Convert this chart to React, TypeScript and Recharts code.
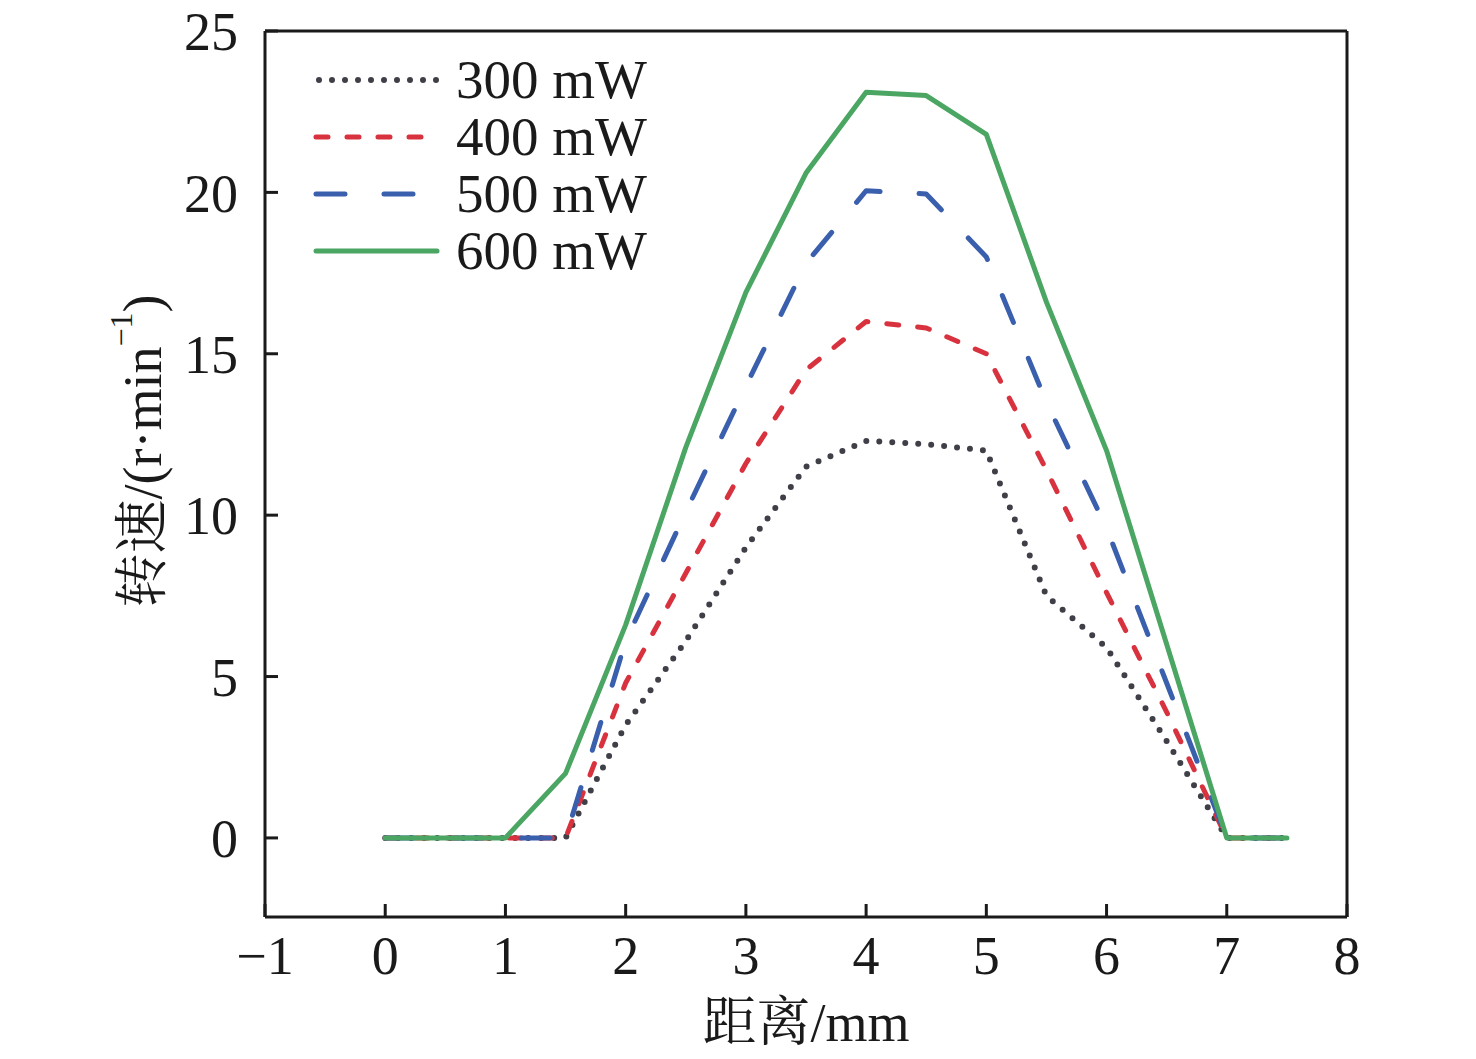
import { LineChart, Line, XAxis, YAxis, Legend, ReferenceLine } from 'recharts'

const distance = [0, 0.5, 1, 1.5, 2, 2.5, 3, 3.5, 4, 4.5, 5, 5.5, 6, 6.5, 7, 7.5]
const speed300 = [0, 0, 0, 0, 3.5, 6.1, 9.0, 11.5, 12.3, 12.2, 12.0, 7.5, 5.9, 3.0, 0, 0]
const speed400 = [0, 0, 0, 0, 4.8, 8.2, 11.6, 14.5, 16.0, 15.8, 15.0, 11.4, 7.6, 3.9, 0, 0]
const speed500 = [0, 0, 0, 0, 6.1, 10.1, 14.0, 17.8, 20.05, 19.95, 18.0, 13.5, 9.6, 4.8, 0, 0]
const speed600 = [0, 0, 0, 2.0, 6.6, 12.1, 16.9, 20.6, 23.1, 23.0, 21.8, 16.6, 12.0, 6.0, 0, 0]

const xTicks = [-1, 0, 1, 2, 3, 4, 5, 6, 7, 8]
const yTicks = [0, 5, 10, 15, 20, 25]

const series = [
  { key: 'p300', name: '300 mW', color: '#3f3f47', dash: '0 13', width: 6 },
  { key: 'p400', name: '400 mW', color: '#d8323f', dash: '12 19', width: 5 },
  { key: 'p500', name: '500 mW', color: '#3a5fad', dash: '29 39', width: 5 },
  { key: 'p600', name: '600 mW', color: '#4ba663', dash: undefined, width: 5 },
]

const data = distance.map((d, i) => ({
  d,
  p300: speed300[i],
  p400: speed400[i],
  p500: speed500[i],
  p600: speed600[i],
}))

const FONT = "'Liberation Serif', 'Noto Serif CJK SC', 'Noto Sans CJK SC', serif"
const INK = '#1a1a1a'

function fmt(v: number) {
  return v < 0 ? '\u2212' + Math.abs(v) : String(v)
}

function LegendBox() {
  return (
    <div style={{ fontFamily: FONT, color: INK }}>
      {series.map((s) => (
        <div key={s.key} style={{ display: 'flex', alignItems: 'center', height: 57 }}>
          <svg width={130} height={20} style={{ marginRight: 13 }}>
            <line
              x1={s.dash === '0 13' ? 6 : 3}
              x2={124}
              y1={10}
              y2={10}
              stroke={s.color}
              strokeWidth={s.width}
              strokeDasharray={s.dash}
              strokeLinecap="round"
            />
          </svg>
          <span style={{ fontSize: 55, lineHeight: '57px' }}>{s.name}</span>
        </div>
      ))}
    </div>
  )
}

function YTitle(props: any) {
  const vb = props.viewBox
  const cx = vb.x - 22
  const cy = vb.y + vb.height / 2 - 23
  return (
    <text
      x={cx}
      y={cy}
      transform={`rotate(-90 ${cx} ${cy})`}
      textAnchor="middle"
      dominantBaseline="central"
      fontFamily={FONT}
      fontSize={54}
      fill={INK}
    >
      转速/(r·min
      <tspan fontSize={32} dy={-22}>
        {'\u22121'}
      </tspan>
      <tspan dy={22}>)</tspan>
    </text>
  )
}

function XTitle(props: any) {
  const vb = props.viewBox
  return (
    <text
      x={vb.x + vb.width / 2}
      y={vb.y + 106}
      textAnchor="middle"
      dominantBaseline="central"
      fontFamily={FONT}
      fontSize={54}
      fill={INK}
    >
      距离/mm
    </text>
  )
}

export default function App() {
  const tickStyle = { fontSize: 54, fill: INK, fontFamily: FONT }
  return (
    <div style={{ position: 'absolute', left: 0, top: 0 }}>
      <LineChart width={1476} height={1059} data={data} margin={{ top: 31, right: 129, bottom: 82, left: 165 }}>
        <XAxis
          dataKey="d"
          type="number"
          domain={[-1, 8]}
          ticks={xTicks}
          interval={0}
          height={60}
          tickFormatter={fmt}
          tick={tickStyle}
          tickSize={-13}
          tickMargin={32}
          axisLine={{ stroke: INK, strokeWidth: 3 }}
          tickLine={{ stroke: INK, strokeWidth: 3 }}
          label={{ content: XTitle }}
        />
        <YAxis
          type="number"
          domain={[-2.45, 25]}
          ticks={yTicks}
          interval={0}
          width={100}
          tick={tickStyle}
          tickSize={-13}
          tickMargin={40}
          axisLine={{ stroke: INK, strokeWidth: 3 }}
          tickLine={{ stroke: INK, strokeWidth: 3 }}
          label={{ content: YTitle }}
        />
        <ReferenceLine y={25} stroke={INK} strokeWidth={3} />
        <ReferenceLine x={8} stroke={INK} strokeWidth={3} />
        <Legend
          layout="vertical"
          align="center"
          verticalAlign="middle"
          content={() => <LegendBox />}
          wrapperStyle={{ left: 313, top: 51, width: 'auto', height: 'auto' }}
        />
        {series.map((s) => (
          <Line
            key={s.key}
            type="linear"
            dataKey={s.key}
            name={s.name}
            stroke={s.color}
            strokeWidth={s.width}
            strokeDasharray={s.dash}
            strokeLinecap="round"
            strokeLinejoin="round"
            dot={false}
            activeDot={false}
            isAnimationActive={false}
          />
        ))}
      </LineChart>
    </div>
  )
}
